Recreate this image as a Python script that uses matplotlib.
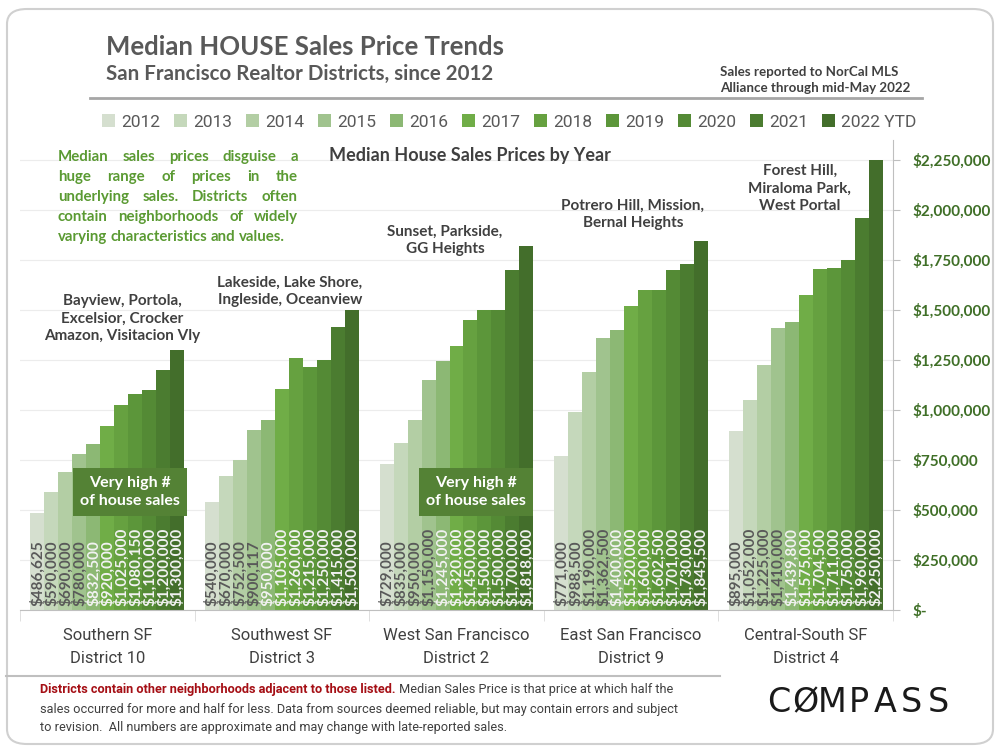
import matplotlib
matplotlib.use('Agg')
import matplotlib.pyplot as plt
from matplotlib.patches import FancyBboxPatch
from matplotlib.ticker import FuncFormatter
import numpy as np

# median house prices per district, 2012 .. 2022 YTD
years = ['2012', '2013', '2014', '2015', '2016', '2017', '2018', '2019', '2020', '2021', '2022 YTD']
districts = ['Southern SF\nDistrict 10', 'Southwest SF\nDistrict 3', 'West San Francisco\nDistrict 2',
             'East San Francisco\nDistrict 9', 'Central-South SF\nDistrict 4']
d10 = [486625, 590000, 690000, 780000, 832500, 920000, 1025000, 1080150, 1100000, 1200000, 1300000]
d3 = [540000, 670000, 752500, 900117, 950000, 1105000, 1260000, 1215000, 1250000, 1415000, 1500000]
d2 = [729000, 835000, 950000, 1150000, 1245000, 1320000, 1450000, 1500000, 1500000, 1700000, 1818000]
d9 = [771000, 988500, 1190000, 1362500, 1400000, 1520000, 1600000, 1602500, 1701000, 1730000, 1845500]
d4 = [895000, 1052000, 1225000, 1410000, 1439800, 1575000, 1704500, 1711000, 1750000, 1960000, 2250000]
neighborhoods = ['Bayview, Portola,\nExcelsior, Crocker\nAmazon, Visitacion Vly',
                 'Lakeside, Lake Shore,\nIngleside, Oceanview',
                 'Sunset, Parkside,\nGG Heights',
                 'Potrero Hill, Mission,\nBernal Heights',
                 'Forest Hill,\nMiraloma Park,\nWest Portal']

colors = ['#d5dfcf', '#c5d8bb', '#b3cea4', '#a0c38e', '#8cb874', '#70ad47',
          '#66a140', '#5c963a', '#548a35', '#4b7c30', '#436e2b']

NARROW = ['Roboto', 'DejaVu Sans']
BOLD = ['Lato', 'DejaVu Sans']
GRAY = '#595959'
DARK = '#404040'

data = np.array([d10, d3, d2, d9, d4])  # rows = districts

fig = plt.figure(figsize=(10, 7.5), dpi=100)
def fx(x): return x / 1000
def fy(y): return 1 - y / 750

ax = fig.add_axes([fx(20), fy(610), fx(893) - fx(20), fy(140) - fy(610)])
x = np.arange(len(districts))
w = 0.08
bars = []
for j, yr in enumerate(years):
    b = ax.bar(x + (j - 5) * w, data[:, j], width=w, color=colors[j], label=yr, zorder=2)
    bars.append(b)
    for i in range(len(districts)):
        ax.text(x[i] + (j - 5) * w, 22000, '${:,}'.format(int(data[i, j])), rotation=90,
                ha='center', va='bottom', fontsize=11, fontweight='bold', family=BOLD,
                color=GRAY if j < 4 else '#f2f2f2', zorder=3)

ax.set_xlim(-0.5, 4.5)
ax.set_ylim(0, 2350000)
ax.set_yticks(np.arange(0, 2250001, 250000))
ax.yaxis.set_major_formatter(FuncFormatter(lambda v, p: '$-' if v == 0 else '${:,.0f}'.format(v)))
ax.yaxis.tick_right()
ax.tick_params(axis='y', colors='#bfbfbf', labelcolor='#3f6f27', length=5, pad=9, labelsize=11)
for lab in ax.get_yticklabels():
    lab.set_fontweight('bold')
    lab.set_family(BOLD)
ax.yaxis.grid(True, color='#ececec', lw=0.8, zorder=0)
ax.set_axisbelow(True)
for s in ['top', 'left']:
    ax.spines[s].set_visible(False)
ax.spines['right'].set_color('#bfbfbf')
ax.spines['bottom'].set_color('#bfbfbf')
ax.set_xticks(x)
ax.set_xticklabels(districts, fontsize=12, color=DARK, family=NARROW, linespacing=1.7)
ax.set_xticks(np.arange(-0.5, 5, 1), minor=True)
ax.tick_params(axis='x', which='major', length=0, pad=13)
ax.tick_params(axis='x', which='minor', length=8, color='#d9d9d9')

# neighborhood labels
nb_pos = [(122, 343), (290, 307), (445, 256), (633, 230), (800, 213)]
for (px, py), t in zip(nb_pos, neighborhoods):
    fig.text(fx(px), fy(py), t, ha='center', va='bottom', fontsize=11, fontweight='bold',
             color=DARK, family=BOLD, linespacing=1.33)

# "very high # of sales" boxes
for cx in [130, 476]:
    fig.text(fx(cx), fy(492), 'Very high #\nof house sales', ha='center', va='center',
             fontsize=11.5, fontweight='bold', color='white', family=BOLD, linespacing=1.45,
             bbox=dict(boxstyle='square,pad=0.45', fc='#548235', ec='none'), zorder=5)

fig.text(fx(470), fy(156), 'Median House Sales Prices by Year', ha='center', va='center',
         fontsize=13, fontweight='bold', color=DARK, family=BOLD)

# titles
fig.text(fx(106), fy(47), 'Median HOUSE Sales Price Trends', ha='left', va='center',
         fontsize=18.5, fontweight='bold', color=GRAY, family=BOLD)
fig.text(fx(106), fy(74), 'San Francisco Realtor Districts, since 2012', ha='left', va='center',
         fontsize=14.8, fontweight='bold', color=GRAY, family=BOLD)
fig.text(fx(720), fy(80), 'Sales reported to NorCal MLS\nAlliance through mid-May 2022', ha='left',
         va='center', fontsize=9.6, fontweight='bold', color=DARK, family=BOLD, linespacing=1.45)
fig.add_artist(plt.Line2D([fx(90), fx(922)], [fy(98), fy(98)], color='#a6a6a6', lw=2))

# legend
fig.legend(handles=bars, labels=years, loc='center', bbox_to_anchor=(fx(509), fy(122)), ncol=11,
           frameon=False, handlelength=0.75, handleheight=0.75, handletextpad=0.35,
           columnspacing=0.8, prop={'family': NARROW, 'size': 12.5}, labelcolor=GRAY)

# justified green note
renderer = fig.canvas.get_renderer()
note = ['Median sales prices disguise a', 'huge range of prices in the',
        'underlying sales. Districts often', 'contain neighborhoods of widely',
        'varying characteristics and values.']
left, right = 58, 298
for k, line in enumerate(note):
    words = line.split()
    yy = fy(157 + k * 20)
    txts = [fig.text(0, yy, wd, fontsize=10.8, fontweight='bold', color='#5a9a32',
                     family=BOLD, va='center') for wd in words]
    widths = [t.get_window_extent(renderer).width for t in txts]
    if k < len(note) - 1:
        gap = (right - left - sum(widths)) / (len(words) - 1)
    else:
        gap = 3.5
    pos = left
    for t, wd in zip(txts, widths):
        t.set_x(fx(pos))
        pos += wd + gap

# separator and footnote
fig.add_artist(plt.Line2D([fx(6), fx(720)], [fy(676), fy(676)], color='#bfbfbf', lw=1.5))
fsz = 9.2
red = fig.text(fx(40), fy(690), 'Districts contain other neighborhoods adjacent to those listed.',
               fontsize=fsz, fontweight='bold', color='#a50f15', family=NARROW, va='center')
rw = red.get_window_extent(renderer).width
fig.text(fx(40 + rw), fy(690), ' Median Sales Price is that price at which half the',
         fontsize=fsz, color=DARK, family=NARROW, va='center')
fig.text(fx(40), fy(709), 'sales occurred for more and half for less. Data from sources deemed reliable, '
         'but may contain errors and subject', fontsize=fsz, color=DARK, family=NARROW, va='center')
fig.text(fx(40), fy(728), 'to revision.  All numbers are approximate and may change with late-reported sales.',
         fontsize=fsz, color=DARK, family=NARROW, va='center')

# logo
for k, ch in enumerate('CØMPASS'):
    fig.text(fx(779 + k * 26.5), fy(703), ch, ha='center', va='center', fontsize=24,
             color='#1a1a1a', family=['DejaVu Sans'])

fig.add_artist(FancyBboxPatch((fx(7), fy(744)), fx(986), fy(9) - fy(744),
                              boxstyle='round,pad=0,rounding_size=0.02', transform=fig.transFigure,
                              fc='none', ec='#d0d0d0', lw=1.5))

fig.savefig('out.png', dpi=100)
